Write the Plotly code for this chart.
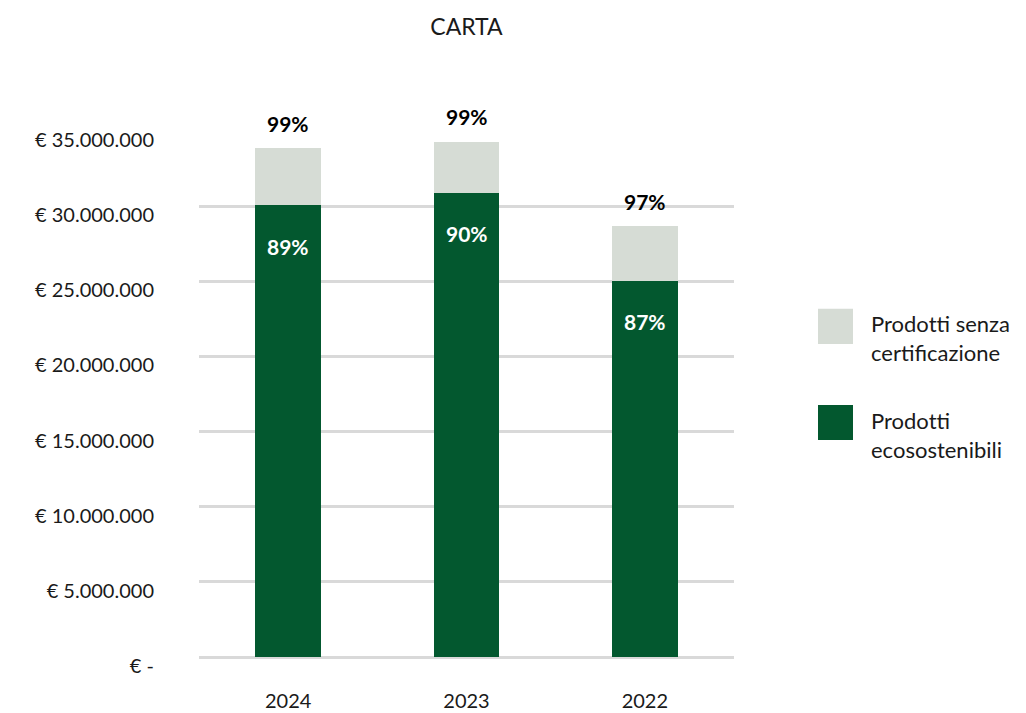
import plotly.graph_objects as go

years = ["2024", "2023", "2022"]
ecosostenibili = [30050000, 30900000, 25050000]
senza_cert = [3800000, 3400000, 3600000]
pct_eco = ["89%", "90%", "87%"]
pct_total = ["99%", "99%", "97%"]
series_names = ["Prodot\u200cti senza<br>certificazione", "Prodot\u200cti<br>ecosostenibili"]
tick_vals = [0, 5000000, 10000000, 15000000, 20000000, 25000000, 30000000, 35000000]
tick_text = ["€ -", "€ 5.000.000", "€ 10.000.000", "€ 15.000.000", "€ 20.000.000",
             "€ 25.000.000", "€ 30.000.000", "€ 35.000.000"]

GREEN = "#03582f"
GRAY = "#d6dcd5"
FONT = "Lato"
TXT = "#1a1a1a"

fig = go.Figure()
fig.add_bar(x=years, y=ecosostenibili, name="Prodotti ecosostenibili",
            marker=dict(color=GREEN, line_width=0), width=0.37, showlegend=False)
fig.add_bar(x=years, y=senza_cert, name="Prodotti senza certificazione",
            marker=dict(color=GRAY, line_width=0), width=0.37, showlegend=False)

annotations = []
for i, yr in enumerate(years):
    annotations.append(dict(x=i, y=ecosostenibili[i], text=pct_eco[i], showarrow=False,
                            yshift=-41, font=dict(family=FONT, size=21, color="white", weight="bold"),
                            xref="x", yref="y"))
    annotations.append(dict(x=i, y=ecosostenibili[i] + senza_cert[i], text=pct_total[i],
                            showarrow=False, yshift=25,
                            font=dict(family=FONT, size=21, color="black", weight="bold"),
                            xref="x", yref="y"))

# legend drawn manually with large squares
leg_colors = [GRAY, GREEN]
leg_y = [327, 423]  # pixel centers from top
shapes = []
for c, yc, name in zip(leg_colors, leg_y, series_names):
    shapes.append(dict(type="rect", xref="paper", yref="paper",
                       x0=(818 - 199) / 535, x1=(853 - 199) / 535,
                       y0=(657 - (yc + 17.5)) / 525, y1=(657 - (yc - 17.5)) / 525,
                       fillcolor=c, line_width=0))
    annotations.append(dict(xref="paper", yref="paper", x=(869 - 199) / 535,
                            y=(657 - (yc + 12)) / 525, xanchor="left", yanchor="middle",
                            text=name, showarrow=False, align="left",
                            font=dict(family=FONT, size=22, color=TXT)))

fig.update_layout(
    barmode="stack",
    width=1026, height=713,
    margin=dict(l=199, r=292, t=131, b=56),
    paper_bgcolor="white", plot_bgcolor="white",
    title=dict(text="CARTA", x=0.5, xref="paper", xanchor="center", y=1 - 27 / 713,
               yanchor="middle", font=dict(family=FONT, size=23, color=TXT)),
    font=dict(family=FONT, color=TXT),
    annotations=annotations,
    shapes=shapes,
    showlegend=False,
)
fig.update_xaxes(type="category", range=[-0.5, 2.5], showgrid=False, showline=False, zeroline=False,
                 tickfont=dict(family=FONT, size=20, color=TXT), automargin=False,
                 ticks="outside", ticklen=0, ticklabelstandoff=26)
fig.update_yaxes(range=[0, 35000000], tickvals=tick_vals, ticktext=tick_text,
                 showgrid=True, gridcolor="#d9d9d9", gridwidth=2.5, automargin=False,
                 zeroline=True, zerolinecolor="#d9d9d9", zerolinewidth=2.5,
                 showline=False, ticklabelstandoff=44, ticklabelshift=9,
                 tickfont=dict(family=FONT, size=20, color=TXT))

fig.write_html("out.html", config={"displayModeBar": False},
               post_script="document.body.style.margin='0';document.body.style.overflow='hidden';")
